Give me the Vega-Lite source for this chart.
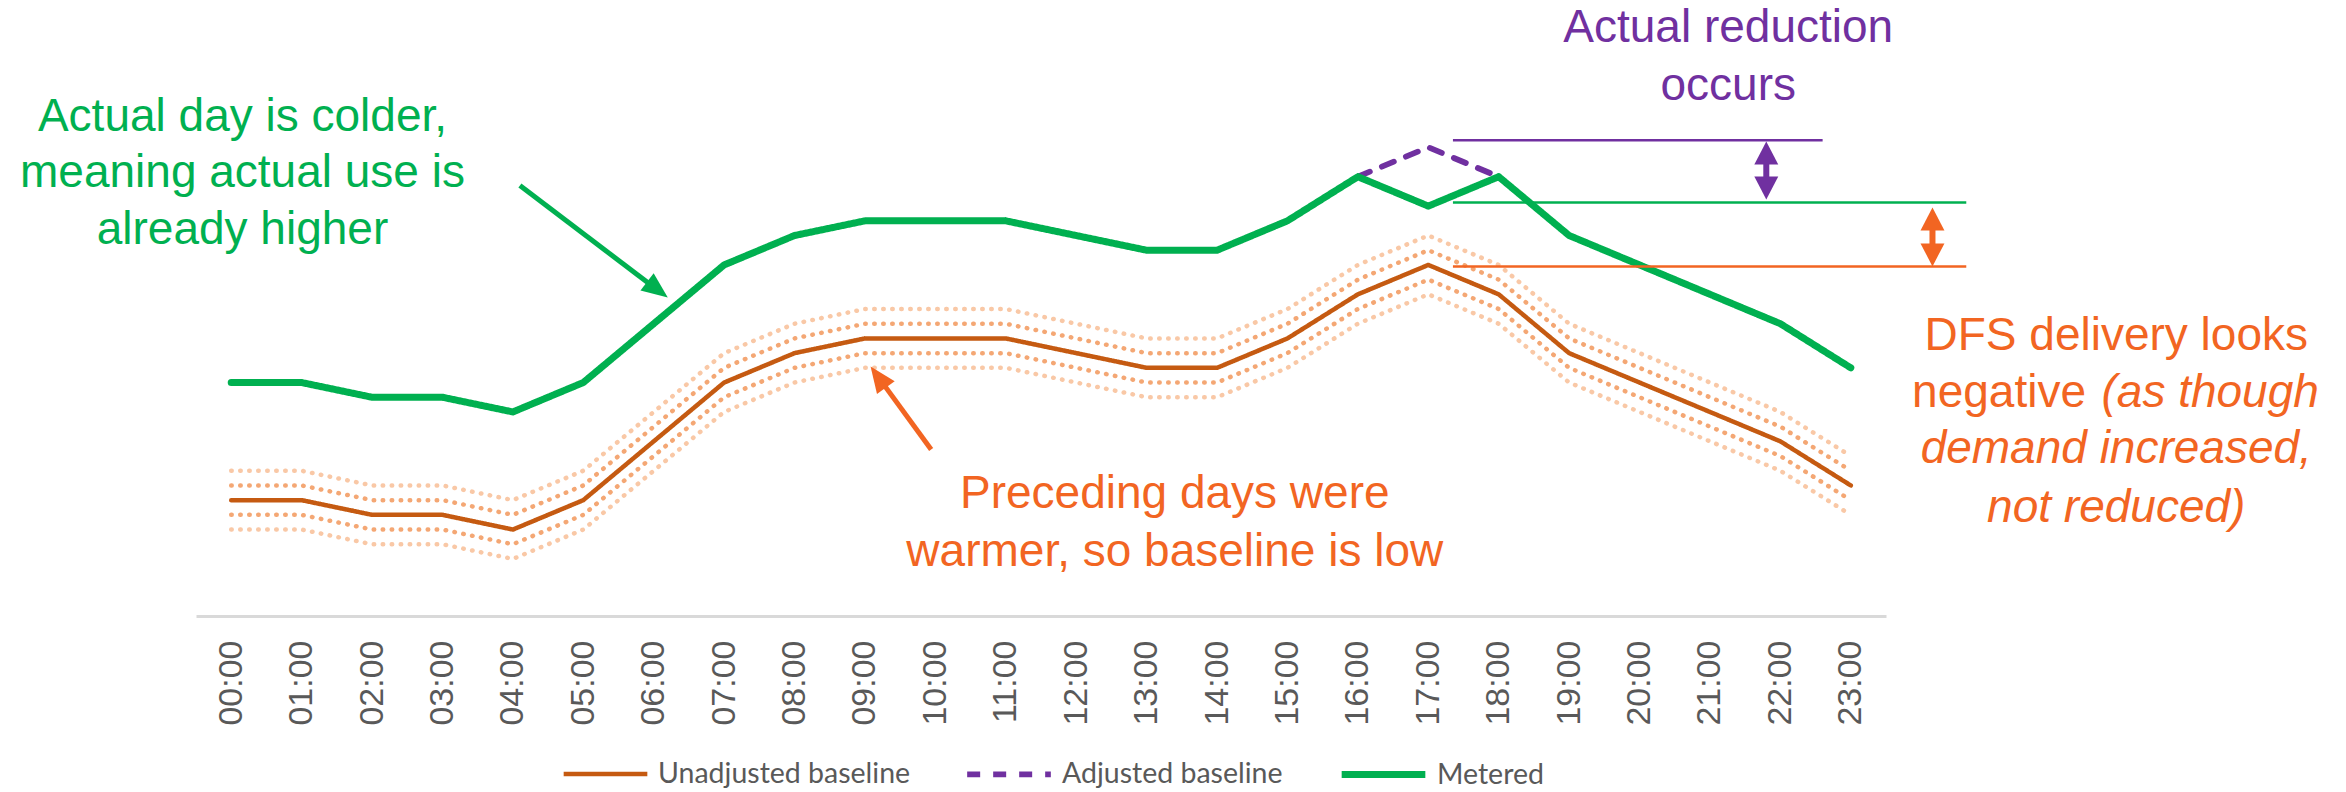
{
  "$schema": "https://vega.github.io/schema/vega-lite/v6.json",
  "width": 1690,
  "height": 616,
  "padding": {"left": 196, "top": 0, "right": 460, "bottom": 176},
  "autosize": {"type": "none"},
  "background": "white",
  "config": {
    "view": {"stroke": null},
    "axisX": {
      "domainColor": "#D9D9D9", "domainWidth": 3, "ticks": false, "grid": false,
      "labelAngle": 270, "labelFont": "Liberation Sans", "labelFontSize": 34,
      "labelColor": "#595959", "labelPadding": 24, "labelOverlap": false, "labelFlush": false, "labelBound": false
    },
    "legend": {
      "orient": "none", "legendX": 365, "legendY": 729, "direction": "horizontal",
      "symbolType": "stroke", "symbolSize": 7000, "labelFont": "Lato", "labelFontSize": 28.5, "labelLimit": 500,
      "labelColor": "#595959", "columnPadding": 44, "labelOffset": 8, "padding": 0, "title": null
    },
    "text": {"font": "Liberation Sans", "fontSize": 46, "baseline": "alphabetic"}
  },
  "datasets": {
    "series": [
      {"h": 0, "u": 2, "series": "Unadjusted baseline"},
      {"h": 1, "u": 2, "series": "Unadjusted baseline"},
      {"h": 2, "u": 1, "series": "Unadjusted baseline"},
      {"h": 3, "u": 1, "series": "Unadjusted baseline"},
      {"h": 4, "u": 0, "series": "Unadjusted baseline"},
      {"h": 5, "u": 2, "series": "Unadjusted baseline"},
      {"h": 6, "u": 6, "series": "Unadjusted baseline"},
      {"h": 7, "u": 10, "series": "Unadjusted baseline"},
      {"h": 8, "u": 12, "series": "Unadjusted baseline"},
      {"h": 9, "u": 13, "series": "Unadjusted baseline"},
      {"h": 10, "u": 13, "series": "Unadjusted baseline"},
      {"h": 11, "u": 13, "series": "Unadjusted baseline"},
      {"h": 12, "u": 12, "series": "Unadjusted baseline"},
      {"h": 13, "u": 11, "series": "Unadjusted baseline"},
      {"h": 14, "u": 11, "series": "Unadjusted baseline"},
      {"h": 15, "u": 13, "series": "Unadjusted baseline"},
      {"h": 16, "u": 16, "series": "Unadjusted baseline"},
      {"h": 17, "u": 18, "series": "Unadjusted baseline"},
      {"h": 18, "u": 16, "series": "Unadjusted baseline"},
      {"h": 19, "u": 12, "series": "Unadjusted baseline"},
      {"h": 20, "u": 10, "series": "Unadjusted baseline"},
      {"h": 21, "u": 8, "series": "Unadjusted baseline"},
      {"h": 22, "u": 6, "series": "Unadjusted baseline"},
      {"h": 23, "u": 3, "series": "Unadjusted baseline"},
      {"h": 16, "u": 24, "series": "Adjusted baseline"},
      {"h": 17, "u": 26, "series": "Adjusted baseline"},
      {"h": 18, "u": 24, "series": "Adjusted baseline"},
      {"h": 0, "u": 10, "series": "Metered"},
      {"h": 1, "u": 10, "series": "Metered"},
      {"h": 2, "u": 9, "series": "Metered"},
      {"h": 3, "u": 9, "series": "Metered"},
      {"h": 4, "u": 8, "series": "Metered"},
      {"h": 5, "u": 10, "series": "Metered"},
      {"h": 6, "u": 14, "series": "Metered"},
      {"h": 7, "u": 18, "series": "Metered"},
      {"h": 8, "u": 20, "series": "Metered"},
      {"h": 9, "u": 21, "series": "Metered"},
      {"h": 10, "u": 21, "series": "Metered"},
      {"h": 11, "u": 21, "series": "Metered"},
      {"h": 12, "u": 20, "series": "Metered"},
      {"h": 13, "u": 19, "series": "Metered"},
      {"h": 14, "u": 19, "series": "Metered"},
      {"h": 15, "u": 21, "series": "Metered"},
      {"h": 16, "u": 24, "series": "Metered"},
      {"h": 17, "u": 22, "series": "Metered"},
      {"h": 18, "u": 24, "series": "Metered"},
      {"h": 19, "u": 20, "series": "Metered"},
      {"h": 20, "u": 18, "series": "Metered"},
      {"h": 21, "u": 16, "series": "Metered"},
      {"h": 22, "u": 14, "series": "Metered"},
      {"h": 23, "u": 11, "series": "Metered"}
    ],
    "bands": [
      {"h": 0, "lo2": 0, "lo1": 1, "hi1": 3, "hi2": 4},
      {"h": 1, "lo2": 0, "lo1": 1, "hi1": 3, "hi2": 4},
      {"h": 2, "lo2": -1, "lo1": 0, "hi1": 2, "hi2": 3},
      {"h": 3, "lo2": -1, "lo1": 0, "hi1": 2, "hi2": 3},
      {"h": 4, "lo2": -2, "lo1": -1, "hi1": 1, "hi2": 2},
      {"h": 5, "lo2": 0, "lo1": 1, "hi1": 3, "hi2": 4},
      {"h": 6, "lo2": 4, "lo1": 5, "hi1": 7, "hi2": 8},
      {"h": 7, "lo2": 8, "lo1": 9, "hi1": 11, "hi2": 12},
      {"h": 8, "lo2": 10, "lo1": 11, "hi1": 13, "hi2": 14},
      {"h": 9, "lo2": 11, "lo1": 12, "hi1": 14, "hi2": 15},
      {"h": 10, "lo2": 11, "lo1": 12, "hi1": 14, "hi2": 15},
      {"h": 11, "lo2": 11, "lo1": 12, "hi1": 14, "hi2": 15},
      {"h": 12, "lo2": 10, "lo1": 11, "hi1": 13, "hi2": 14},
      {"h": 13, "lo2": 9, "lo1": 10, "hi1": 12, "hi2": 13},
      {"h": 14, "lo2": 9, "lo1": 10, "hi1": 12, "hi2": 13},
      {"h": 15, "lo2": 11, "lo1": 12, "hi1": 14, "hi2": 15},
      {"h": 16, "lo2": 14, "lo1": 15, "hi1": 17, "hi2": 18},
      {"h": 17, "lo2": 16, "lo1": 17, "hi1": 19, "hi2": 20},
      {"h": 18, "lo2": 14, "lo1": 15, "hi1": 17, "hi2": 18},
      {"h": 19, "lo2": 10, "lo1": 11, "hi1": 13, "hi2": 14},
      {"h": 20, "lo2": 8, "lo1": 9, "hi1": 11, "hi2": 12},
      {"h": 21, "lo2": 6, "lo1": 7, "hi1": 9, "hi2": 10},
      {"h": 22, "lo2": 4, "lo1": 5, "hi1": 7, "hi2": 8},
      {"h": 23, "lo2": 1, "lo1": 2, "hi1": 4, "hi2": 5}
    ],
    "notes": [
      {"note": "cold", "h": 0.16, "u": 27.1, "text": "Actual day is colder,"},
      {"note": "cold", "h": 0.16, "u": 23.27, "text": "meaning actual use is"},
      {"note": "cold", "h": 0.16, "u": 19.39, "text": "already higher"},
      {"note": "warm", "h": 13.4, "u": 1.5, "text": "Preceding days were"},
      {"note": "warm", "h": 13.4, "u": -2.45, "text": "warmer, so baseline is low"},
      {"note": "reduction", "h": 21.26, "u": 33.13, "text": "Actual reduction"},
      {"note": "reduction", "h": 21.26, "u": 29.25, "text": "occurs"},
      {"note": "dfs", "h": 26.77, "u": 12.24, "text": "DFS delivery looks"},
      {"note": "dfs_right", "h": 26.34, "u": 8.37, "text": "negative"},
      {"note": "dfs_italic_left", "h": 26.56, "u": 8.37, "text": "(as though"},
      {"note": "dfs_italic", "h": 26.77, "u": 4.56, "text": "demand increased,"},
      {"note": "dfs_italic", "h": 26.77, "u": 0.54, "text": "not reduced)"}
    ],
    "refs": [
      {"ref": "reduction", "h": 17.35, "h2": 22.6, "u": 26.48},
      {"ref": "metered", "h": 17.35, "h2": 24.64, "u": 22.25},
      {"ref": "baseline", "h": 17.35, "h2": 24.64, "u": 17.9}
    ],
    "shafts": [
      {"arrow": "cold", "h": 4.1, "u": 23.4, "h2": 6.05, "u2": 16.31},
      {"arrow": "warm", "h": 9.94, "u": 5.44, "h2": 9.19, "u2": 10.37},
      {"arrow": "reduction", "h": 21.8, "u": 25.6, "h2": 21.8, "u2": 23.27},
      {"arrow": "gap", "h": 24.16, "u": 21.1, "h2": 24.16, "u2": 18.7}
    ],
    "heads": [
      {"head": "cold", "h": 6.2, "u": 15.78},
      {"head": "warm", "h": 9.08, "u": 11.09},
      {"head": "reduction_up", "h": 21.8, "u": 26.4},
      {"head": "reduction_down", "h": 21.8, "u": 22.45},
      {"head": "gap_up", "h": 24.16, "u": 21.9},
      {"head": "gap_down", "h": 24.16, "u": 17.9}
    ]
  },
  "encoding": {
    "x": {
      "field": "h", "type": "quantitative",
      "scale": {"domain": [-0.5, 23.5], "nice": false, "zero": false},
      "axis": {
        "title": null,
        "values": [0,1,2,3,4,5,6,7,8,9,10,11,12,13,14,15,16,17,18,19,20,21,22,23],
        "labelExpr": "(datum.value < 10 ? '0' : '') + datum.value + ':00'"
      }
    },
    "y": {
      "field": "u", "type": "quantitative",
      "scale": {"domain": [-5.88, 36.02], "nice": false, "zero": false},
      "axis": null
    }
  },
  "layer": [
    {
      "data": {"name": "bands"},
      "transform": [{"fold": ["lo2", "hi2"], "as": ["band", "bv"]}],
      "mark": {"type": "line", "stroke": "#F9C8A6", "strokeWidth": 4.5, "strokeDash": [0.5, 8.5], "strokeCap": "round"},
      "encoding": {"y": {"field": "bv", "type": "quantitative"}, "detail": {"field": "band"}}
    },
    {
      "data": {"name": "bands"},
      "transform": [{"fold": ["lo1", "hi1"], "as": ["band", "bv"]}],
      "mark": {"type": "line", "stroke": "#F4A774", "strokeWidth": 4.5, "strokeDash": [0.5, 8.5], "strokeCap": "round"},
      "encoding": {"y": {"field": "bv", "type": "quantitative"}, "detail": {"field": "band"}}
    },
    {
      "data": {"name": "series"},
      "mark": {"type": "line", "strokeCap": "round", "strokeJoin": "round"},
      "encoding": {
        "color": {"field": "series", "type": "nominal",
          "scale": {"domain": ["Unadjusted baseline", "Adjusted baseline", "Metered"], "range": ["#C55A11", "#7030A0", "#00B050"]}},
        "strokeDash": {"field": "series", "type": "nominal",
          "scale": {"domain": ["Unadjusted baseline", "Adjusted baseline", "Metered"], "range": [[1, 0], [13, 13], [1, 0]]}},
        "strokeWidth": {"field": "series", "type": "nominal",
          "scale": {"domain": ["Unadjusted baseline", "Adjusted baseline", "Metered"], "range": [4.5, 7, 9]}}
      }
    },
    {
      "data": {"name": "refs"},
      "transform": [{"filter": "datum.ref == 'reduction'"}],
      "mark": {"type": "rule", "stroke": "#7030A0", "strokeWidth": 2.5},
      "encoding": {"x2": {"field": "h2"}}
    },
    {
      "data": {"name": "refs"},
      "transform": [{"filter": "datum.ref == 'metered'"}],
      "mark": {"type": "rule", "stroke": "#00B050", "strokeWidth": 2.5},
      "encoding": {"x2": {"field": "h2"}}
    },
    {
      "data": {"name": "refs"},
      "transform": [{"filter": "datum.ref == 'baseline'"}],
      "mark": {"type": "rule", "stroke": "#F26522", "strokeWidth": 2.5},
      "encoding": {"x2": {"field": "h2"}}
    },
    {
      "data": {"name": "shafts"},
      "transform": [{"filter": "datum.arrow == 'cold'"}],
      "mark": {"type": "rule", "stroke": "#00B050", "strokeWidth": 5},
      "encoding": {"x2": {"field": "h2"}, "y2": {"field": "u2"}}
    },
    {
      "data": {"name": "shafts"},
      "transform": [{"filter": "datum.arrow == 'warm'"}],
      "mark": {"type": "rule", "stroke": "#F26522", "strokeWidth": 5},
      "encoding": {"x2": {"field": "h2"}, "y2": {"field": "u2"}}
    },
    {
      "data": {"name": "shafts"},
      "transform": [{"filter": "datum.arrow == 'reduction'"}],
      "mark": {"type": "rule", "stroke": "#7030A0", "strokeWidth": 6},
      "encoding": {"x2": {"field": "h2"}, "y2": {"field": "u2"}}
    },
    {
      "data": {"name": "shafts"},
      "transform": [{"filter": "datum.arrow == 'gap'"}],
      "mark": {"type": "rule", "stroke": "#F26522", "strokeWidth": 6},
      "encoding": {"x2": {"field": "h2"}, "y2": {"field": "u2"}}
    },
    {
      "data": {"name": "heads"},
      "transform": [{"filter": "datum.head == 'cold'"}],
      "mark": {"type": "point", "shape": "M0,0L0.42,1L-0.42,1Z", "size": 2704, "angle": 127.1, "filled": true, "color": "#00B050", "opacity": 1},
      "encoding": {}
    },
    {
      "data": {"name": "heads"},
      "transform": [{"filter": "datum.head == 'warm'"}],
      "mark": {"type": "point", "shape": "M0,0L0.42,1L-0.42,1Z", "size": 2704, "angle": 324.1, "filled": true, "color": "#F26522", "opacity": 1},
      "encoding": {}
    },
    {
      "data": {"name": "heads"},
      "transform": [{"filter": "datum.head == 'reduction_up'"}],
      "mark": {"type": "point", "shape": "M0,0L0.52,1L-0.52,1Z", "size": 2116, "angle": 0, "filled": true, "color": "#7030A0", "opacity": 1},
      "encoding": {}
    },
    {
      "data": {"name": "heads"},
      "transform": [{"filter": "datum.head == 'reduction_down'"}],
      "mark": {"type": "point", "shape": "M0,0L0.52,1L-0.52,1Z", "size": 2116, "angle": 180, "filled": true, "color": "#7030A0", "opacity": 1},
      "encoding": {}
    },
    {
      "data": {"name": "heads"},
      "transform": [{"filter": "datum.head == 'gap_up'"}],
      "mark": {"type": "point", "shape": "M0,0L0.52,1L-0.52,1Z", "size": 2116, "angle": 0, "filled": true, "color": "#F26522", "opacity": 1},
      "encoding": {}
    },
    {
      "data": {"name": "heads"},
      "transform": [{"filter": "datum.head == 'gap_down'"}],
      "mark": {"type": "point", "shape": "M0,0L0.52,1L-0.52,1Z", "size": 2116, "angle": 180, "filled": true, "color": "#F26522", "opacity": 1},
      "encoding": {}
    },
    {
      "data": {"name": "notes"},
      "transform": [{"filter": "datum.note == 'cold'"}],
      "mark": {"type": "text", "align": "center", "color": "#00B050"},
      "encoding": {"text": {"field": "text"}}
    },
    {
      "data": {"name": "notes"},
      "transform": [{"filter": "datum.note == 'warm' || datum.note == 'dfs'"}],
      "mark": {"type": "text", "align": "center", "color": "#F26522"},
      "encoding": {"text": {"field": "text"}}
    },
    {
      "data": {"name": "notes"},
      "transform": [{"filter": "datum.note == 'dfs_right'"}],
      "mark": {"type": "text", "align": "right", "color": "#F26522"},
      "encoding": {"text": {"field": "text"}}
    },
    {
      "data": {"name": "notes"},
      "transform": [{"filter": "datum.note == 'dfs_italic_left'"}],
      "mark": {"type": "text", "align": "left", "fontStyle": "italic", "color": "#F26522"},
      "encoding": {"text": {"field": "text"}}
    },
    {
      "data": {"name": "notes"},
      "transform": [{"filter": "datum.note == 'dfs_italic'"}],
      "mark": {"type": "text", "align": "center", "fontStyle": "italic", "color": "#F26522"},
      "encoding": {"text": {"field": "text"}}
    },
    {
      "data": {"name": "notes"},
      "transform": [{"filter": "datum.note == 'reduction'"}],
      "mark": {"type": "text", "align": "center", "color": "#7030A0"},
      "encoding": {"text": {"field": "text"}}
    }
  ]
}
